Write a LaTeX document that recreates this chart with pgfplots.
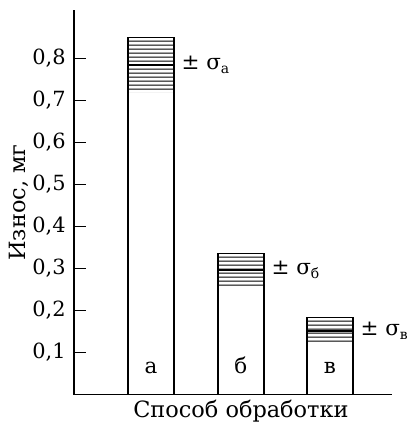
\documentclass[border=0pt]{standalone}
\usepackage{fontspec}
\setmainfont{DejaVu Serif}
\usepackage{pgfplots}
\pgfplotsset{compat=1.18}
\usetikzlibrary{patterns.meta}
\begin{document}
\fontsize{21.5}{25}\selectfont
\begin{tikzpicture}
\useasboundingbox (0,0) rectangle (408bp,423bp);
\begin{axis}[
  at={(74bp,28.5bp)}, anchor=south west,
  scale only axis, width=318bp, height=384.5bp,
  xmin=0, xmax=3.553, ymin=0, ymax=0.9155,
  axis lines=left, axis line style={line width=1.4bp, -},
  xtick=\empty,
  ytick={0.1,0.2,0.3,0.4,0.5,0.6,0.7,0.8},
  yticklabels={0{,}1,0{,}2,0{,}3,0{,}4,0{,}5,0{,}6,0{,}7,0{,}8},
  tick align=inside, major tick length=12bp,
  every tick/.style={black, line width=1.2bp},
  yticklabel style={font=\fontsize{21}{24}\selectfont, xshift=-1bp},
  /pgf/number format/assume math mode=true,
  clip=false,
  ybar stacked, bar width=46bp,
]
% base part (white)
\addplot[draw=none, fill=white] coordinates {(0.86,0.7195) (1.865,0.256) (2.86,0.120)};
% hatched part (mean +/- sigma)
\addplot[draw=none, pattern={Lines[angle=0,distance=3.9bp,line width=1.1bp]}, pattern color=black]
  coordinates {(0.86,0.1305) (1.865,0.080) (2.86,0.063)};
\end{axis}
\begin{axis}[
  at={(74bp,28.5bp)}, anchor=south west,
  scale only axis, width=318bp, height=384.5bp,
  xmin=0, xmax=3.553, ymin=0, ymax=0.9155,
  axis lines=none, clip=false,
]
% bar outlines
\addplot[ybar, bar width=46bp, draw=black, line width=1.3bp, fill=none]
  coordinates {(0.86,0.850) (1.865,0.336) (2.86,0.183)};
% mean lines
\addplot[only marks, mark=-, mark size=23bp, mark options={line width=1.8bp, black}]
  coordinates {(0.86,0.785) (1.865,0.296) (2.86,0.1515)};
\node[anchor=base] at (axis cs:0.86,0.05) {а};
\node[anchor=base] at (axis cs:1.865,0.05) {б};
\node[anchor=base] at (axis cs:2.86,0.05) {в};
\node[anchor=west, inner sep=0pt] at (axis cs:1.2,0.785) {± σ\raisebox{-0.35ex}{\fontsize{14}{16}\selectfont а}};
\node[anchor=west, inner sep=0pt] at (axis cs:2.205,0.296) {± σ\raisebox{-0.35ex}{\fontsize{14}{16}\selectfont б}};
\node[anchor=west, inner sep=0pt] at (axis cs:3.2,0.1515) {± σ\raisebox{-0.35ex}{\fontsize{14}{16}\selectfont в}};
\node[anchor=north, inner sep=0pt] at (axis cs:1.865,-0.012) {\fontsize{22.5}{26}\selectfont Способ обработки};
\node[rotate=90, anchor=center] at (-55bp,192bp) {\fontsize{22.5}{26}\selectfont Износ, мг};
\end{axis}
\end{tikzpicture}
\end{document}
